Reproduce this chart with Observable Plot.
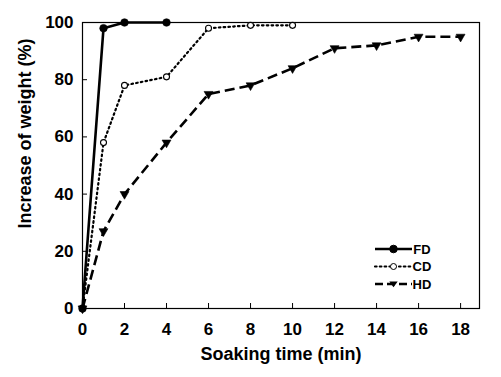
<!DOCTYPE html>
<html>
<head>
<meta charset="utf-8">
<script src="https://cdn.jsdelivr.net/npm/d3@7"></script>
<script src="https://cdn.jsdelivr.net/npm/@observablehq/plot@0.6"></script>
<style>
  html, body { margin: 0; padding: 0; background: #fff; }
  svg { display: block; }
</style>
</head>
<body>
<div id="chart"></div>
<script>
const seriesNames = ["FD", "CD", "HD"];
const fdTime = [0, 1, 2, 4];
const fdWeight = [0, 98, 100, 100];
const cdTime = [0, 1, 2, 4, 6, 8, 10];
const cdWeight = [0, 58, 78, 81, 98, 99, 99];
const hdTime = [0, 1, 2, 4, 6, 8, 10, 12, 14, 16, 18];
const hdWeight = [0, 27, 40, 58, 75, 78, 84, 91, 92, 95, 95];
const xTicks = [0, 2, 4, 6, 8, 10, 12, 14, 16, 18];
const yTicks = [0, 20, 40, 60, 80, 100];
const xTitle = "Soaking time (min)";
const yTitle = "Increase of weight (%)";

const toRows = (name, xs, ys) => xs.map((t, i) => ({series: name, time: t, weight: ys[i]}));
const fd = toRows("FD", fdTime, fdWeight);
const cd = toRows("CD", cdTime, cdWeight);
const hd = toRows("HD", hdTime, hdWeight);

const W = 501, H = 377;
const mL = 82, mR = 22, mT = 22, mB = 69;
const frameW = W - mL - mR, frameH = H - mT - mB;
const font = "'Liberation Sans', Arial, sans-serif";

const styles = {
  FD: {dash: null, width: 2.6, symbol: "circle", fill: "black", r: 3.8, rotate: 0},
  CD: {dash: "1.6,3.2", width: 2.2, symbol: "circle", fill: "white", r: 3, rotate: 0},
  HD: {dash: "10,5", width: 2.6, symbol: "triangle", fill: "black", r: 3.3, rotate: 180}
};

const seriesMarks = [];
for (const [name, rows] of [["HD", hd], ["CD", cd], ["FD", fd]]) {
  const s = styles[name];
  seriesMarks.push(Plot.line(rows, {
    x: "time", y: "weight", stroke: "black", strokeWidth: s.width,
    strokeDasharray: s.dash, strokeLinecap: name === "CD" ? "round" : "butt"
  }));
  seriesMarks.push(Plot.dot(rows, {
    x: "time", y: "weight", symbol: () => s.symbol, r: s.r,
    fill: s.fill, stroke: "black", strokeWidth: name === "CD" ? 1.1 : 0.6,
    rotate: s.rotate
  }));
}

const plot = Plot.plot({
  width: W, height: H,
  marginLeft: mL, marginRight: mR, marginTop: mT, marginBottom: mB,
  style: {fontFamily: font, background: "white"},
  x: {domain: [0, 18.9]},
  y: {domain: [0, 100]},
  symbol: {type: "identity"},
  marks: [
    Plot.frame({stroke: "black", strokeWidth: 1.2}),
    Plot.tickX(xTicks, {x: d => d, stroke: "black", strokeWidth: 1, insetTop: frameH - 5}),
    Plot.tickY(yTicks, {y: d => d, stroke: "black", strokeWidth: 1, insetRight: frameW - 5}),
    Plot.axisX(xTicks, {tickSize: 0, tickPadding: 14, fontSize: 17, fontWeight: "bold", fill: "black", label: null}),
    Plot.axisY(yTicks, {tickSize: 0, tickPadding: 9, fontSize: 17, fontWeight: "bold", fill: "black", label: null}),
    Plot.text([xTitle], {text: d => d, frameAnchor: "bottom", dy: 51, fontSize: 18, fontWeight: "bold", fill: "black"}),
    Plot.text([yTitle], {text: d => d, frameAnchor: "left", textAnchor: "middle", dx: -57, dy: -32, rotate: -90, fontSize: 18, fontWeight: "bold", fill: "black"}),
    ...seriesMarks
  ]
});

const svg = d3.select(plot);

// legend (positioned relative to the frame)
const legendX0 = mL + frameW - 104, legendX1 = legendX0 + 37, textX = legendX1 + 10;
const legendY0 = mT + frameH - 59, rowGap = 17.5;
const lg = svg.append("g").attr("aria-label", "legend");
seriesNames.forEach((name, i) => {
  const s = styles[name];
  const y = legendY0 + i * rowGap;
  lg.append("line").attr("x1", legendX0).attr("x2", legendX1).attr("y1", y).attr("y2", y)
    .attr("stroke", "black").attr("stroke-width", s.width)
    .attr("stroke-dasharray", name === "CD" ? "1.6,3.2" : name === "HD" ? "8,4" : null)
    .attr("stroke-linecap", name === "CD" ? "round" : "butt");
  const cx = (legendX0 + legendX1) / 2;
  if (name === "HD") {
    const r = 4.2;
    lg.append("path").attr("d", `M${cx - r},${y - r * 0.6}L${cx + r},${y - r * 0.6}L${cx},${y + r * 0.8}Z`)
      .attr("fill", "black");
  } else {
    lg.append("circle").attr("cx", cx).attr("cy", y).attr("r", s.r)
      .attr("fill", s.fill).attr("stroke", "black").attr("stroke-width", 1);
  }
  lg.append("text").attr("x", textX).attr("y", y).attr("dy", "0.35em")
    .attr("font-family", font).attr("font-size", 13).attr("font-weight", "bold").text(name);
});

document.getElementById("chart").appendChild(plot);
</script>
</body>
</html>
